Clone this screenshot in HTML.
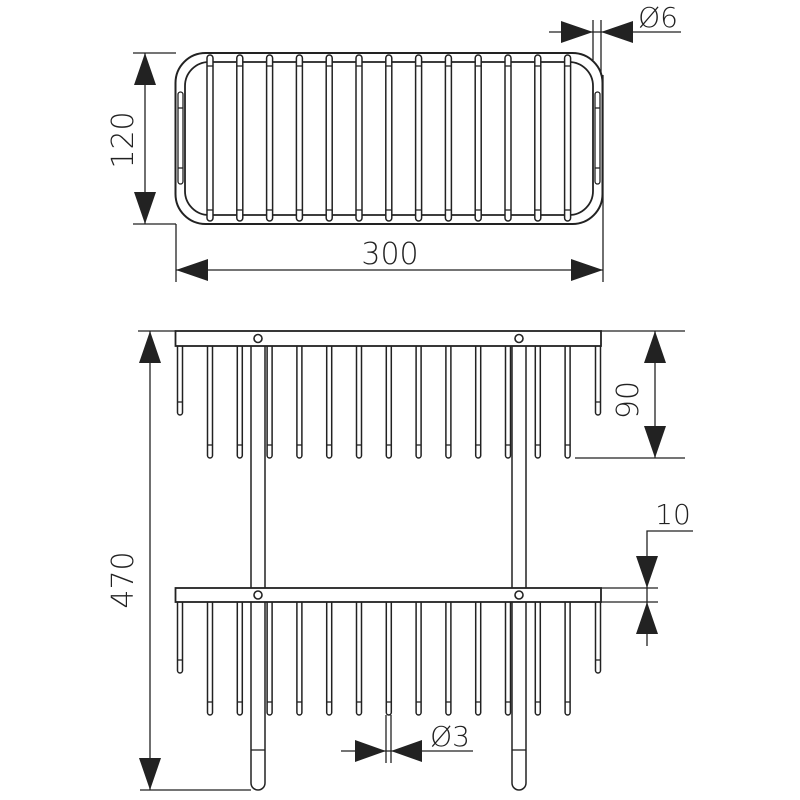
<!DOCTYPE html>
<html><head><meta charset="utf-8"><style>
html,body{margin:0;padding:0;background:#fff}
svg{display:block}
text{font-family:"DejaVu Sans","Liberation Sans",sans-serif;font-weight:300;fill:#222}
</style></head><body>
<svg id="s" width="800" height="800" viewBox="0 0 800 800" xmlns="http://www.w3.org/2000/svg" stroke="#222" fill="none" stroke-width="1.3">
<!-- TOP VIEW -->
<rect x="175.5" y="53" width="427" height="171" rx="30" stroke-width="2"/>
<rect x="185" y="62" width="408" height="153" rx="24" stroke-width="1.8"/>
<rect x="178" y="92" width="5" height="92" rx="2.5" fill="#fff"/>
<line x1="178" y1="108" x2="183" y2="108"/><line x1="178" y1="168" x2="183" y2="168"/>
<rect x="595" y="92" width="5" height="92" rx="2.5" fill="#fff"/>
<line x1="595" y1="108" x2="600" y2="108"/><line x1="595" y1="168" x2="600" y2="168"/>
<g id="topw"></g>

<!-- dim 120 -->
<line x1="133" y1="53" x2="176" y2="53"/>
<line x1="133" y1="224" x2="176" y2="224"/>
<line x1="145" y1="53" x2="145" y2="224"/>
<polygon points="145,53 134,85 156,85" fill="#222" stroke="none"/>
<polygon points="145,224 134,192 156,192" fill="#222" stroke="none"/>
<text x="0" y="0" font-size="30" stroke="none" transform="translate(133,140) rotate(-90)" text-anchor="middle">120</text>

<!-- dim 300 -->
<line x1="176" y1="224" x2="176" y2="282"/>
<line x1="603" y1="75" x2="603" y2="282"/>
<line x1="176" y1="270" x2="603" y2="270"/>
<polygon points="176,270 208,259 208,281" fill="#222" stroke="none"/>
<polygon points="603,270 571,259 571,281" fill="#222" stroke="none"/>
<text x="390" y="264" font-size="30" stroke="none" text-anchor="middle">300</text>

<!-- dim Ø6 -->
<line x1="593" y1="20" x2="593" y2="60"/>
<line x1="601" y1="20" x2="601" y2="75"/>
<line x1="549" y1="32" x2="681" y2="32"/>
<polygon points="593,32 561,21 561,43" fill="#222" stroke="none"/>
<polygon points="601,32 633,21 633,43" fill="#222" stroke="none"/>
<text x="658" y="27" font-size="28" stroke="none" text-anchor="middle">Ø6</text>

<!-- FRONT VIEW -->
<g id="front"></g>
<rect x="175.5" y="331" width="425.5" height="15" fill="#fff" stroke-width="1.8"/>
<rect x="175.5" y="588" width="425.5" height="14" fill="#fff" stroke-width="1.8"/>
<circle cx="258" cy="338.5" r="4" stroke-width="1.6" fill="#fff"/>
<circle cx="519" cy="338.5" r="4" stroke-width="1.6" fill="#fff"/>
<circle cx="258" cy="595" r="4" stroke-width="1.6" fill="#fff"/>
<circle cx="519" cy="595" r="4" stroke-width="1.6" fill="#fff"/>

<!-- dim 470 -->
<line x1="138" y1="331" x2="176" y2="331"/>
<line x1="140" y1="790" x2="251" y2="790"/>
<line x1="150" y1="331" x2="150" y2="790"/>
<polygon points="150,331 139,363 161,363" fill="#222" stroke="none"/>
<polygon points="150,790 139,758 161,758" fill="#222" stroke="none"/>
<text x="0" y="0" font-size="30" stroke="none" transform="translate(133,580) rotate(-90)" text-anchor="middle">470</text>

<!-- dim 90 -->
<line x1="601" y1="331" x2="685" y2="331"/>
<line x1="575" y1="458" x2="685" y2="458"/>
<line x1="655" y1="331" x2="655" y2="458"/>
<polygon points="655,331 644,363 666,363" fill="#222" stroke="none"/>
<polygon points="655,458 644,426 666,426" fill="#222" stroke="none"/>
<text x="0" y="0" font-size="30" stroke="none" transform="translate(638,400) rotate(-90)" text-anchor="middle">90</text>

<!-- dim 10 -->
<line x1="601" y1="588" x2="658" y2="588"/>
<line x1="601" y1="602" x2="658" y2="602"/>
<polyline points="693,531 647,531 647,646"/>
<polygon points="647,588 636,556 658,556" fill="#222" stroke="none"/>
<polygon points="647,602 636,634 658,634" fill="#222" stroke="none"/>
<text x="673" y="524" font-size="28" stroke="none" text-anchor="middle">10</text>

<!-- dim Ø3 -->
<line x1="386" y1="715" x2="386" y2="763"/>
<line x1="391" y1="715" x2="391" y2="763"/>
<line x1="341" y1="751" x2="473" y2="751"/>
<polygon points="386,751 355,740 355,762" fill="#222" stroke="none"/>
<polygon points="391,751 422,740 422,762" fill="#222" stroke="none"/>
<text x="450" y="746" font-size="28" stroke="none" text-anchor="middle">Ø3</text>
</svg>
<script>
(function(){
var NS="http://www.w3.org/2000/svg";
function el(p,n,a){var e=document.createElementNS(NS,n);for(var k in a)e.setAttribute(k,a[k]);p.appendChild(e);return e;}
var tw=document.getElementById('topw');
var xs=[];for(var i=0;i<13;i++)xs.push(210+i*29.8);
xs.forEach(function(x){
 el(tw,'rect',{x:x-3,y:55,width:6,height:166,rx:3,fill:'#fff','stroke-width':1.5});
 el(tw,'line',{x1:x-3,y1:66,x2:x+3,y2:66});
 el(tw,'line',{x1:x-3,y1:210,x2:x+3,y2:210});
});
var fr=document.getElementById('front');
function wire(x,y0,y1){
 var w=5,r=2.5;
 el(fr,'path',{d:'M'+(x-r)+','+y0+' L'+(x-r)+','+(y1-r)+' A'+r+','+r+' 0 0 0 '+(x+r)+','+(y1-r)+' L'+(x+r)+','+y0,fill:'#fff','stroke-width':1.5});
 el(fr,'line',{x1:x-r,y1:y1-13,x2:x+r,y2:y1-13});
}
// posts
[258,519].forEach(function(x){
 el(fr,'path',{d:'M251,346 L251,783 A7,7 0 0 0 265,783 L265,346',fill:'#fff','stroke-width':1.5});
 if(x==519){fr.lastChild.setAttribute('transform','translate(261,0)');}
});
el(fr,'line',{x1:251,y1:750,x2:265,y2:750});
el(fr,'line',{x1:512,y1:750,x2:526,y2:750});
[[346,458,415],[602,715,673]].forEach(function(t){
 wire(180,t[0],t[2]);wire(598,t[0],t[2]);
 xs.forEach(function(x){wire(x,t[0],t[1]);});
});
})();
</script>
</body></html>
